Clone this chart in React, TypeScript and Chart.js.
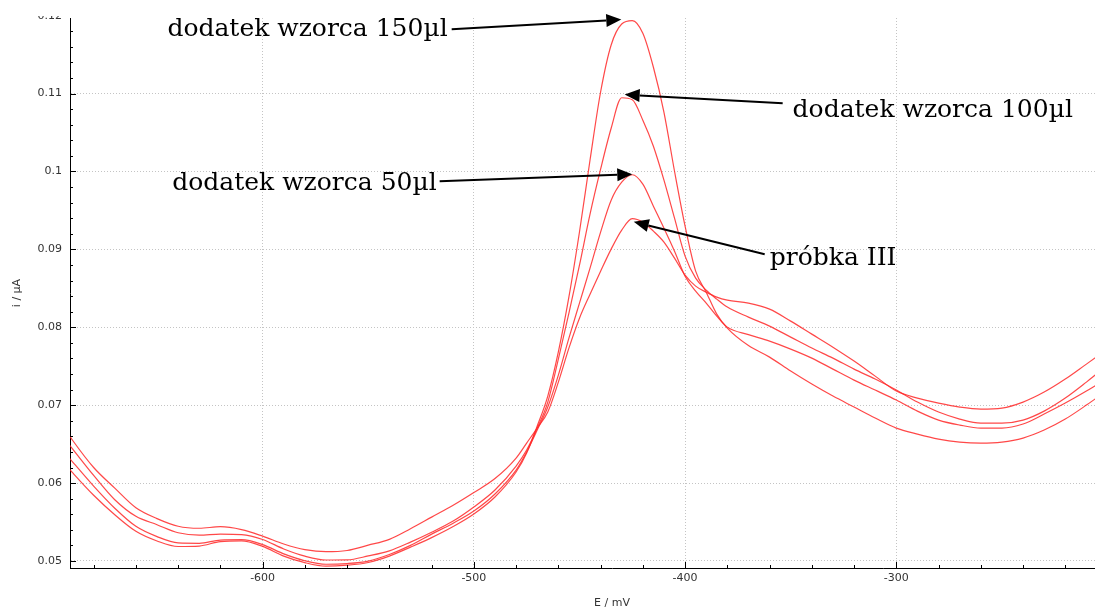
import React, { useEffect, useRef } from "react";
import { Chart, registerables } from "chart.js";

Chart.register(...registerables);

// Potential E / mV (shared x grid)
const potentials = [
  -695, -690, -680, -670, -660, -650, -640, -630, -620, -610,
  -600, -590, -580, -570, -560, -550, -540, -530, -520, -510,
  -500, -490, -480, -475, -470, -465, -460, -455, -450, -445,
  -440, -435, -430, -425, -420, -415, -410, -405, -400, -395,
  -390, -385, -380, -370, -360, -350, -340, -330, -320, -310,
  -300, -290, -280, -270, -260, -250, -240, -230, -220, -210, -200,
];

// Current i / µA
const probkaIII = [
  0.0675, 0.0655, 0.0620, 0.05935, 0.05683, 0.05544, 0.05446, 0.05420, 0.05440, 0.05403,
  0.05319, 0.05218, 0.05146, 0.05119, 0.05135, 0.05203, 0.05278, 0.05414, 0.05563, 0.05712,
  0.05879, 0.06058, 0.06321, 0.06514, 0.06706, 0.06912, 0.07296, 0.07733, 0.08117, 0.08425,
  0.08720, 0.09003, 0.09247, 0.09394, 0.09349, 0.09234, 0.09093, 0.08887, 0.08669, 0.08528,
  0.08451, 0.08387, 0.08348, 0.08310, 0.08233, 0.08079, 0.07912, 0.07745, 0.07566, 0.07373,
  0.07181, 0.07091, 0.07027, 0.06976, 0.06950, 0.06963, 0.07040, 0.07168, 0.07335, 0.07527, 0.07720,
];

const wzorzec50 = [
  0.06434, 0.06273, 0.05961, 0.05677, 0.05445, 0.05313, 0.05232, 0.05227, 0.05269, 0.05273,
  0.05210, 0.05091, 0.05003, 0.04958, 0.04967, 0.04999, 0.05083, 0.05200, 0.05345, 0.05482,
  0.05641, 0.05860, 0.06167, 0.06398, 0.06681, 0.06976, 0.07386, 0.07861, 0.08310, 0.08759,
  0.09221, 0.09631, 0.09862, 0.09958, 0.09837, 0.09554, 0.09272, 0.08977, 0.08656, 0.08464,
  0.08310, 0.08143, 0.08002, 0.07906, 0.07822, 0.07720, 0.07604, 0.07463, 0.07322, 0.07194,
  0.07066, 0.06924, 0.06809, 0.06745, 0.06706, 0.06706, 0.06758, 0.06886, 0.07027, 0.07181, 0.07348,
];

const wzorzec100 = [
  0.06615, 0.06439, 0.06098, 0.05786, 0.05573, 0.05466, 0.05362, 0.05331, 0.05346, 0.05339,
  0.05276, 0.05154, 0.05062, 0.05013, 0.05015, 0.05065, 0.05130, 0.05242, 0.05369, 0.05509,
  0.05693, 0.05911, 0.06219, 0.06424, 0.06706, 0.07040, 0.07591, 0.08182, 0.08797, 0.09452,
  0.10029, 0.10555, 0.10946, 0.10921, 0.10658, 0.10324, 0.09888, 0.09400, 0.08913, 0.08631,
  0.08477, 0.08361, 0.08259, 0.08130, 0.08015, 0.07874, 0.07733, 0.07604, 0.07463, 0.07335,
  0.07194, 0.07040, 0.06912, 0.06822, 0.06770, 0.06770, 0.06809, 0.06924, 0.07091, 0.07296, 0.07514,
];

const wzorzec150 = [
  0.06288, 0.06134, 0.05844, 0.05594, 0.05381, 0.05257, 0.05186, 0.05192, 0.05249, 0.05258,
  0.05187, 0.05063, 0.04978, 0.04933, 0.04946, 0.04981, 0.05063, 0.05178, 0.05300, 0.05439,
  0.05603, 0.05821, 0.06142, 0.06386, 0.06732, 0.07117, 0.07683, 0.08389, 0.09223, 0.10147,
  0.11020, 0.11624, 0.11893, 0.11937, 0.11774, 0.11338, 0.10760, 0.10003, 0.09298, 0.08720,
  0.08451, 0.08169, 0.07989, 0.07765, 0.07617, 0.07438, 0.07271, 0.07117, 0.06976, 0.06835,
  0.06706, 0.06629, 0.06565, 0.06527, 0.06514, 0.06527, 0.06578, 0.06681, 0.06822, 0.07001, 0.07194,
];

const seriesNames = ["próbka III", "dodatek wzorca 50µl", "dodatek wzorca 100µl", "dodatek wzorca 150µl"];

// Annotations (in data units)
const noteTexts = ["dodatek wzorca 150µl", "dodatek wzorca 100µl", "dodatek wzorca 50µl", "próbka III"];
const noteTipE = [-430.2, -428.6, -425.0, -424.3];
const noteTipI = [0.1195, 0.10987, 0.09965, 0.09353];
const noteTailE = [-510.5, -353.8, -516.2, -362.3];
const noteTailI = [0.11825, 0.10876, 0.09875, 0.08938];
const noteTextE = [-512.4, -349.1, -517.6, -359.9];
const noteTextI = [0.11735, 0.10705, 0.09757, 0.08797];
const noteAlign = ["right", "left", "right", "left"];

const xRange = [-691.2, -178];
const yRange = [0.0491, 0.1197];
const xTitle = "E / mV";
const yTitle = "i / µA";

const axisDecor = {
  id: "axisDecor",
  afterDraw(chart: any) {
    const { ctx, chartArea, scales } = chart;
    const xs = scales.x;
    const ys = scales.y;
    ctx.save();
    ctx.strokeStyle = "#000";
    ctx.lineWidth = 1;
    ctx.beginPath();
    for (let k = Math.ceil(yRange[0] / 0.002); k * 0.002 <= yRange[1] + 1e-9; k++) {
      const p = Math.round(ys.getPixelForValue(k * 0.002)) + 0.5;
      const len = k % 5 === 0 ? 6 : 3;
      ctx.moveTo(chartArea.left, p);
      ctx.lineTo(chartArea.left + len, p);
    }
    for (let k = Math.ceil(xRange[0] / 20); k * 20 <= xRange[1]; k++) {
      const p = Math.round(xs.getPixelForValue(k * 20)) + 0.5;
      const len = k % 5 === 0 ? 6 : 3;
      ctx.moveTo(p, chartArea.bottom);
      ctx.lineTo(p, chartArea.bottom - len);
    }
    ctx.stroke();
    // partially visible 0.12 label at the top
    ctx.save();
    ctx.beginPath();
    ctx.rect(0, 16, chartArea.left, 20);
    ctx.clip();
    ctx.fillStyle = "#333";
    ctx.font = '11px "DejaVu Sans"';
    ctx.textAlign = "right";
    ctx.textBaseline = "middle";
    ctx.fillText("0.12", chartArea.left - 8, ys.getPixelForValue(0.12));
    ctx.restore();
    ctx.restore();
  },
};

const notes = {
  id: "notes",
  afterDatasetsDraw(chart: any) {
    const { ctx, scales } = chart;
    const xs = scales.x;
    const ys = scales.y;
    ctx.save();
    for (let i = 0; i < noteTexts.length; i++) {
      const tx = xs.getPixelForValue(noteTipE[i]);
      const ty = ys.getPixelForValue(noteTipI[i]);
      const sx = xs.getPixelForValue(noteTailE[i]);
      const sy = ys.getPixelForValue(noteTailI[i]);
      const a = Math.atan2(ty - sy, tx - sx);
      const headLen = 15;
      const headW = 6.5;
      const bx = tx - headLen * Math.cos(a);
      const by = ty - headLen * Math.sin(a);
      ctx.strokeStyle = "#000";
      ctx.lineWidth = 2;
      ctx.beginPath();
      ctx.moveTo(sx, sy);
      ctx.lineTo(bx, by);
      ctx.stroke();
      ctx.fillStyle = "#000";
      ctx.beginPath();
      ctx.moveTo(tx, ty);
      ctx.lineTo(bx - headW * Math.sin(a), by + headW * Math.cos(a));
      ctx.lineTo(bx + headW * Math.sin(a), by - headW * Math.cos(a));
      ctx.closePath();
      ctx.fill();
      ctx.font = '25px "DejaVu Serif"';
      ctx.textAlign = noteAlign[i] as CanvasTextAlign;
      ctx.textBaseline = "alphabetic";
      ctx.fillText(noteTexts[i], xs.getPixelForValue(noteTextE[i]), ys.getPixelForValue(noteTextI[i]));
    }
    ctx.restore();
  },
};

export default function App() {
  const ref = useRef<HTMLCanvasElement>(null);
  useEffect(() => {
    if (!ref.current) return;
    const series = [probkaIII, wzorzec50, wzorzec100, wzorzec150];
    const chart = new Chart(ref.current, {
      type: "line",
      data: {
        datasets: series.map((s, i) => ({
          label: seriesNames[i],
          data: potentials.map((e, j) => ({ x: e, y: s[j] })),
          borderColor: "rgba(255,40,40,0.85)",
          borderWidth: 1.2,
          pointRadius: 0,
          fill: false,
          cubicInterpolationMode: "monotone" as const,
        })),
      },
      options: {
        animation: false,
        responsive: false,
        layout: { padding: { top: 18, right: 16, left: 0, bottom: 0 } },
        plugins: { legend: { display: false }, tooltip: { enabled: false } },
        scales: {
          x: {
            type: "linear",
            min: xRange[0],
            max: xRange[1],
            afterFit: (s: any) => { s.height = 43; },
            ticks: {
              stepSize: 100,
              includeBounds: false,
              autoSkip: false,
              maxRotation: 0,
              padding: 4,
              color: "#333",
              font: { family: "DejaVu Sans", size: 11 },
              callback: (v: any) => String(Math.round(Number(v))),
            },
            grid: { color: "#c4c4c4", lineWidth: 1, drawTicks: false },
            border: { display: true, color: "#000", width: 1, dash: [1, 2] },
            title: {
              display: true,
              text: xTitle,
              color: "#333",
              font: { family: "DejaVu Sans", size: 11 },
              padding: { top: 0, bottom: 1 },
            },
          },
          y: {
            type: "linear",
            min: yRange[0],
            max: yRange[1],
            afterFit: (s: any) => { s.width = 70; },
            ticks: {
              stepSize: 0.01,
              includeBounds: false,
              autoSkip: false,
              padding: 8,
              color: "#333",
              font: { family: "DejaVu Sans", size: 11 },
              callback: (v: any) => String(Math.round(Number(v) * 100) / 100),
            },
            grid: { color: "#c4c4c4", lineWidth: 1, drawTicks: false },
            border: { display: true, color: "#000", width: 1, dash: [1, 2] },
            title: {
              display: true,
              text: yTitle,
              color: "#333",
              font: { family: "DejaVu Sans", size: 11 },
              padding: { top: 11, bottom: 0 },
            },
          },
        },
      },
      plugins: [axisDecor, notes],
    });
    return () => chart.destroy();
  }, []);

  return (
    <div
      style={{
        position: "fixed",
        left: 0,
        top: 0,
        width: 1095,
        height: 611,
        overflow: "hidden",
        background: "#fff",
      }}
    >
      <canvas ref={ref} width={1170} height={611} style={{ display: "block" }} />
    </div>
  );
}
